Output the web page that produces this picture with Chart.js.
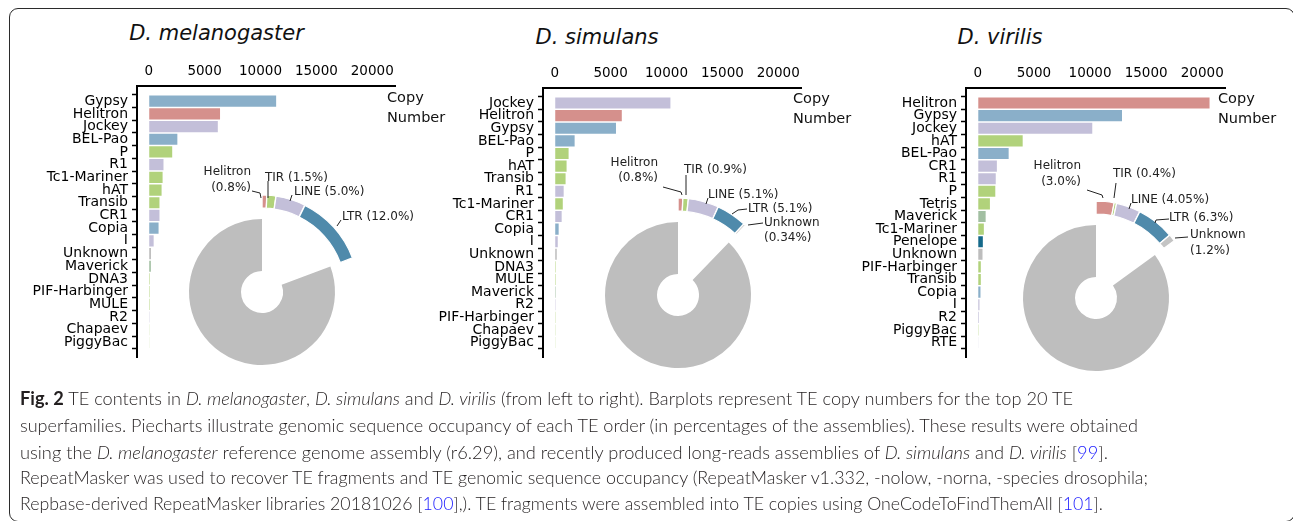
<!DOCTYPE html>
<html><head><meta charset="utf-8">
<script src="https://cdn.jsdelivr.net/npm/chart.js@4.4.1/dist/chart.umd.min.js"></script>
<style>
html,body{margin:0;padding:0;background:#fff;width:1293px;height:521px;overflow:hidden;position:relative;}
canvas{position:absolute;}
.frame{position:absolute;left:9px;top:8px;width:1286px;height:514px;border:1.4px solid #2b2b2b;border-radius:9px;box-sizing:border-box;}
.title{position:absolute;font-family:'DejaVu Sans';font-style:italic;font-size:21px;color:#111;white-space:nowrap;transform:translate(-50%,-50%);}
.axlab{position:absolute;font-family:'DejaVu Sans';font-size:14.5px;color:#111;line-height:20px;white-space:nowrap;}
.cap{position:absolute;left:20px;font-family:Lato,'Open Sans',sans-serif;font-weight:300;font-size:18px;color:#231f20;white-space:nowrap;transform-origin:0 50%;line-height:26px;}
.cap b{font-weight:700;}
.cap .ref{color:#1a1aff;}
</style></head>
<body>
<div class="frame"></div>
<script>
// ---------------- DATA ----------------
const xTicks = [0, 5000, 10000, 15000, 20000];

const melCats = ['Gypsy','Helitron','Jockey','BEL-Pao','P','R1','Tc1-Mariner','hAT','Transib','CR1','Copia','I','Unknown','Maverick','DNA3','PIF-Harbinger','MULE','R2','Chapaev','PiggyBac'];
const melCopies = [11400, 6380, 6180, 2560, 2100, 1320, 1240, 1150, 960, 960, 880, 440, 200, 190, 90, 85, 85, 70, 60, 55];

const simCats = ['Jockey','Helitron','Gypsy','BEL-Pao','P','hAT','Transib','R1','Tc1-Mariner','CR1','Copia','I','Unknown','DNA3','MULE','Maverick','R2','PIF-Harbinger','Chapaev','PiggyBac'];
const simCopies = [10350, 6000, 5480, 1780, 1240, 1060, 970, 800, 720, 620, 350, 270, 180, 85, 85, 85, 75, 70, 65, 60];

const virCats = ['Helitron','Gypsy','Jockey','hAT','BEL-Pao','CR1','R1','P','Tetris','Maverick','Tc1-Mariner','Penelope','Unknown','PIF-Harbinger','Transib','Copia','I','R2','PiggyBac','RTE'];
const virCopies = [20650, 12850, 10200, 4000, 2750, 1700, 1600, 1560, 1080, 700, 540, 450, 420, 270, 270, 240, 150, 100, 70, 55];

const melPieOrders = ['Helitron','TIR','LINE','LTR'];
const melPiePct = [0.8, 1.5, 5.0, 12.0];
const simPieOrders = ['Helitron','TIR','LINE','LTR','Unknown'];
const simPiePct = [0.8, 0.9, 5.1, 5.1, 0.34];
const virPieOrders = ['Helitron','TIR','LINE','LTR','Unknown'];
const virPiePct = [3.0, 0.4, 4.05, 6.3, 1.2];

// ---------------- STYLES ----------------
const superOrder = {Gypsy:'LTR','BEL-Pao':'LTR',Copia:'LTR',Helitron:'Helitron',Jockey:'LINE',R1:'LINE',CR1:'LINE',I:'LINE',R2:'LINE',RTE:'LINE',
  P:'TIR','Tc1-Mariner':'TIR',hAT:'TIR',Transib:'TIR',DNA3:'TIR','PIF-Harbinger':'TIR',MULE:'TIR',Chapaev:'TIR',PiggyBac:'TIR',Tetris:'TIR',
  Unknown:'Unknown',Maverick:'Maverick',Penelope:'Penelope'};
const barColors = {LTR:'#8aafc9',Helitron:'#d5908c',LINE:'#c3bfd9',TIR:'#b1d27b',Unknown:'#bdbdbd',Maverick:'#a2bfa2',Penelope:'#15698a'};
const pieColors = {Helitron:'#d5908c',TIR:'#b1d27b',LINE:'#c3bfd9',LTR:'#4f8aab',Unknown:'#c4c4c4'};
const restGrey = '#bebebe';

function addCanvas(left, top, w, h){
  const c = document.createElement('canvas');
  c.width = w; c.height = h;
  c.style.left = left+'px'; c.style.top = top+'px';
  c.style.width = w+'px'; c.style.height = h+'px';
  document.body.appendChild(c);
  return c;
}
function addDiv(cls, html, left, top){
  const d = document.createElement('div');
  d.className = cls; d.innerHTML = html;
  d.style.left = left+'px'; d.style.top = top+'px';
  document.body.appendChild(d);
  return d;
}

function barChart(cats, vals, b){
  const c = addCanvas(b.cl, b.ct, b.cw, b.ch);
  new Chart(c, {
    type:'bar',
    data:{datasets:[{
      data: vals.map((v,i)=>({x:v, y:i})),
      backgroundColor: cats.map(n=>barColors[superOrder[n]]),
      borderWidth:0, barPercentage:0.88, categoryPercentage:1
    }]},
    options:{
      indexAxis:'y', responsive:false, animation:false, events:[],
      layout:{padding:{left:0, top:0, right:b.cl+b.cw-b.right, bottom:b.ct+b.ch-b.bottom}},
      plugins:{legend:{display:false}, tooltip:{enabled:false}},
      scales:{
        x:{type:'linear', position:'top', min:-1050, max:22100,
          afterBuildTicks:s=>{ s.ticks = xTicks.map(v=>({value:v})); },
          afterFit:s=>{ s.height = b.top - b.ct; },
          grid:{display:true, drawOnChartArea:false, drawTicks:false},
          border:{display:true, color:'#000', width:2},
          ticks:{padding:6, color:'#000', font:{family:'DejaVu Sans', size:13.5}, maxRotation:0, autoSkip:false, callback:v=>String(v)}
        },
        y:{type:'linear', reverse:true, min:-0.66, max:19.66,
          afterBuildTicks:s=>{ s.ticks = cats.map((n,i)=>({value:i})); },
          afterFit:s=>{ s.width = b.left - b.cl; },
          grid:{display:true, drawOnChartArea:false, drawTicks:true, tickLength:5, color:'#000', tickWidth:1.5},
          border:{display:true, color:'#000', width:2},
          ticks:{padding:4, color:'#000', font:{family:'DejaVu Sans', size:14}, autoSkip:false, callback:v=>cats[v]}
        }
      }
    }
  });
}

function fmt(v){ return Number.isInteger(Math.round(v*1000)/100) ? v.toFixed(1) : v.toFixed(2); }

function pieChart(cx, cy, orders, pcts, labelCfg){
  const W=340, H=300;
  const c = addCanvas(cx-W/2, cy-H/2, W, H);
  const te = pcts.reduce((a,b)=>a+b,0);
  const clear = 'rgba(0,0,0,0)';
  const labelPlugin = {
    id:'pielabels',
    afterDraw(chart){
      const arc = chart.getDatasetMeta(2).data[0];
      const x0 = arc.x, y0 = arc.y;
      const ctx = chart.ctx;
      ctx.save();
      ctx.font = '12px "DejaVu Sans"';
      ctx.fillStyle = '#222'; ctx.strokeStyle = '#222'; ctx.lineWidth = 1;
      ctx.textBaseline = 'middle';
      orders.forEach((o,i)=>{
        const L = labelCfg[o]; if(!L) return;
        const txt = L.two ? [o, '('+fmt(pcts[i])+'%)'] : [o+' ('+fmt(pcts[i])+'%)'];
        const lh = L.lh || 16;
        ctx.textAlign = L.align;
        txt.forEach((t,k)=>ctx.fillText(t, x0+L.tx, y0+L.ty+k*lh));
        ctx.beginPath();
        L.lead.forEach((p,k)=>{ if(k===0) ctx.moveTo(x0+p[0], y0+p[1]); else ctx.lineTo(x0+p[0], y0+p[1]); });
        ctx.stroke();
      });
      ctx.restore();
    }
  };
  new Chart(c, {
    type:'doughnut',
    data:{datasets:[
      {data:[...pcts, 100-te], backgroundColor:[...orders.map(o=>pieColors[o]), clear],
       borderColor:'#fff', borderWidth:[...pcts.map(()=>1.2),0], offset:[...pcts.map(()=>2),0], weight:13},
      {data:[te, 100-te], backgroundColor:clear, borderWidth:0, weight:10},
      {data:[te, 100-te], backgroundColor:[clear, restGrey], borderWidth:0, weight:52}
    ]},
    options:{responsive:false, animation:false, events:[], radius:96, cutout:(21/96*100)+'%',
      layout:{padding:0}, plugins:{legend:{display:false}, tooltip:{enabled:false}}},
    plugins:[labelPlugin]
  });
}

// ---------------- BAR PANELS ----------------
barChart(melCats, melCopies, {cl:0, ct:50, cw:400, ch:320, left:137, right:397, top:86, bottom:362});
barChart(simCats, simCopies, {cl:420, ct:50, cw:386, ch:320, left:543, right:803, top:88, bottom:364});
barChart(virCats, virCopies, {cl:845, ct:50, cw:385, ch:320, left:966, right:1227, top:88, bottom:364});

// ---------------- PIES ----------------
pieChart(262, 292, melPieOrders, melPiePct, {
  Helitron:{two:true, align:'right', tx:-11, ty:-120, lh:16, lead:[[-10,-101],[-2,-99],[-1,-94]]},
  TIR:{align:'left', tx:3, ty:-114, lead:[[6,-111],[6,-94]]},
  LINE:{align:'left', tx:32, ty:-100, lead:[[30,-97],[28,-91]]},
  LTR:{align:'left', tx:80, ty:-75, lead:[[79,-72],[75,-66]]}
});
pieChart(678, 295, simPieOrders, simPiePct, {
  Helitron:{two:true, align:'right', tx:-20, ty:-132, lh:15, lead:[[-15,-108],[3,-103],[4,-100]]},
  TIR:{align:'left', tx:6, ty:-125, lead:[[8,-120],[8,-100]]},
  LINE:{align:'left', tx:30, ty:-100, lead:[[30,-97],[28,-91]]},
  LTR:{align:'left', tx:70, ty:-86, lead:[[69,-86],[60,-85],[54,-81]]},
  Unknown:{two:true, align:'left', tx:86, ty:-72, lh:15, lead:[[85,-72],[70,-70]]}
});
pieChart(1096, 298, virPieOrders, virPiePct, {
  Helitron:{two:true, align:'right', tx:-15, ty:-132, lh:16, lead:[[-9,-108],[6,-103],[7,-100]]},
  TIR:{align:'left', tx:17, ty:-124, lead:[[20,-115],[18,-100]]},
  LINE:{align:'left', tx:35, ty:-98, lead:[[35,-95],[33,-89]]},
  LTR:{align:'left', tx:73, ty:-80, lead:[[73,-79],[60,-78],[59,-75]]},
  Unknown:{two:true, align:'left', tx:94, ty:-63, lh:16, lead:[[92,-61],[79,-60]]}
});

// ---------------- TEXT ----------------
[['D. melanogaster',216.5,33],['D. simulans',597,37],['D. virilis',1000,37]].forEach(t=>addDiv('title',t[0],t[1],t[2]));
[[387,87],[793,88],[1218,88]].forEach(p=>addDiv('axlab','Copy<br>Number',p[0],p[1]));

const capLines = [
 '<b>Fig. 2</b> TE contents in <i>D. melanogaster</i>, <i>D. simulans</i> and <i>D. virilis</i> (from left to right). Barplots represent TE copy numbers for the top 20 TE',
 'superfamilies. Piecharts illustrate genomic sequence occupancy of each TE order (in percentages of the assemblies). These results were obtained',
 'using the <i>D. melanogaster</i> reference genome assembly (r6.29), and recently produced long-reads assemblies of <i>D. simulans</i> and <i>D. virilis</i> [<span class="ref">99</span>].',
 'RepeatMasker was used to recover TE fragments and TE genomic sequence occupancy (RepeatMasker v1.332, -nolow, -norna, -species drosophila;',
 'Repbase-derived RepeatMasker libraries 20181026 [<span class="ref">100</span>],). TE fragments were assembled into TE copies using OneCodeToFindThemAll [<span class="ref">101</span>].'
];
const capY = [398, 425, 452, 477, 503];
const capEnd = [1073, 1138, 1108, 1148, 1103];
const capDivs = capLines.map((h,i)=>addDiv('cap','<span>'+h+'</span>',20,capY[i]-13));
function fitCaption(){
  capDivs.forEach((d,i)=>{
    d.style.transform='none';
    const w = d.firstChild.getBoundingClientRect().width;
    d.style.transform='scaleX('+((capEnd[i]-20)/w)+')';
  });
}
fitCaption();
if(document.fonts && document.fonts.ready) document.fonts.ready.then(fitCaption);
</script>
</body></html>
